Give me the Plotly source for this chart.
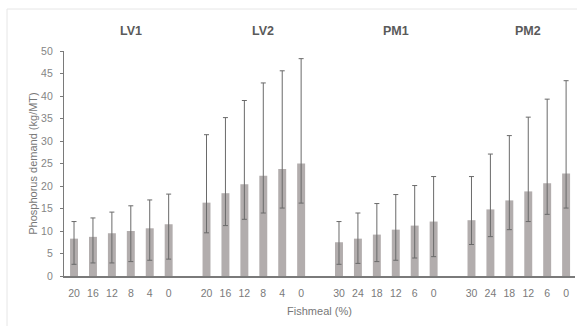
import plotly.graph_objects as go

groups = ["LV1", "LV2", "PM1", "PM2"]
fishmeal_labels = [
    ["20", "16", "12", "8", "4", "0"],
    ["20", "16", "12", "8", "4", "0"],
    ["30", "24", "18", "12", "6", "0"],
    ["30", "24", "18", "12", "6", "0"],
]
means = [
    [8.3, 8.7, 9.5, 10.0, 10.6, 11.5],
    [16.3, 18.4, 20.4, 22.3, 23.8, 25.0],
    [7.5, 8.3, 9.2, 10.3, 11.2, 12.1],
    [12.4, 14.8, 16.8, 18.8, 20.6, 22.8],
]
upper = [
    [12.1, 12.9, 14.2, 15.6, 16.9, 18.2],
    [31.4, 35.2, 39.0, 42.9, 45.6, 48.3],
    [12.1, 14.0, 16.1, 18.1, 20.1, 22.1],
    [22.1, 27.1, 31.2, 35.3, 39.3, 43.4],
]
lower = [
    [2.6, 2.9, 2.9, 3.2, 3.5, 3.75],
    [9.6, 11.2, 12.6, 14.0, 15.1, 16.2],
    [2.6, 2.8, 3.2, 3.5, 4.0, 4.3],
    [7.0, 8.75, 10.3, 12.1, 13.7, 15.1],
]

xs, ys, ep, em, tv, tt = [], [], [], [], [], []
for g in range(len(groups)):
    for i in range(6):
        pos = g * 7 + i
        xs.append(pos)
        ys.append(means[g][i])
        ep.append(upper[g][i] - means[g][i])
        em.append(means[g][i] - lower[g][i])
        tv.append(pos)
        tt.append(fishmeal_labels[g][i])

fig = go.Figure()
fig.add_trace(go.Bar(
    x=xs, y=ys, width=0.42,
    marker=dict(color="#b2adad", line=dict(width=0)),
    error_y=dict(type="data", symmetric=False, array=ep, arrayminus=em,
                 color="#6a6a6a", thickness=1, width=2.5),
    showlegend=False,
))

for g, name in enumerate(groups):
    fig.add_annotation(x=g * 7 + 3.0, y=1, xref="x", yref="paper",
                       yanchor="bottom", yshift=11, showarrow=False,
                       text="<b>%s</b>" % name,
                       font=dict(family="Liberation Sans, Arial", size=12.5, color="#5a5a5a"))

fig.add_shape(type="rect", xref="paper", yref="paper",
              x0=-57 / 511, x1=1.2, y0=-1, y1=1 + 42 / 225,
              line=dict(color="#e6e6e6", width=1), layer="below")

fig.update_layout(
    width=577, height=326,
    margin=dict(l=64, r=2, t=51, b=50),
    paper_bgcolor="white", plot_bgcolor="white",
    font=dict(family="Liberation Sans, Arial", color="#707070", size=10),
    xaxis=dict(range=[-0.53, 26.47], tickvals=tv, ticktext=tt,
               showgrid=False, zeroline=False, showline=True,
               linecolor="#7a7a7a", linewidth=1.5, ticks="",
               ticklabelstandoff=7,
               tickfont=dict(size=10.5, color="#7a7a7a"),
               title=dict(text="Fishmeal (%)", font=dict(size=11, color="#777777"), standoff=9)),
    yaxis=dict(range=[0, 50], dtick=5, showgrid=False, zeroline=False,
               showline=True, linecolor="#7a7a7a", linewidth=1.2,
               ticks="outside", ticklen=3, tickcolor="#7a7a7a",
               ticklabelstandoff=5,
               tickfont=dict(size=10.5, color="#858585"),
               title=dict(text="Phosphorus demand (kg/MT)", font=dict(size=11, color="#777777"), standoff=1)),
)

fig.write_html("out.html")
